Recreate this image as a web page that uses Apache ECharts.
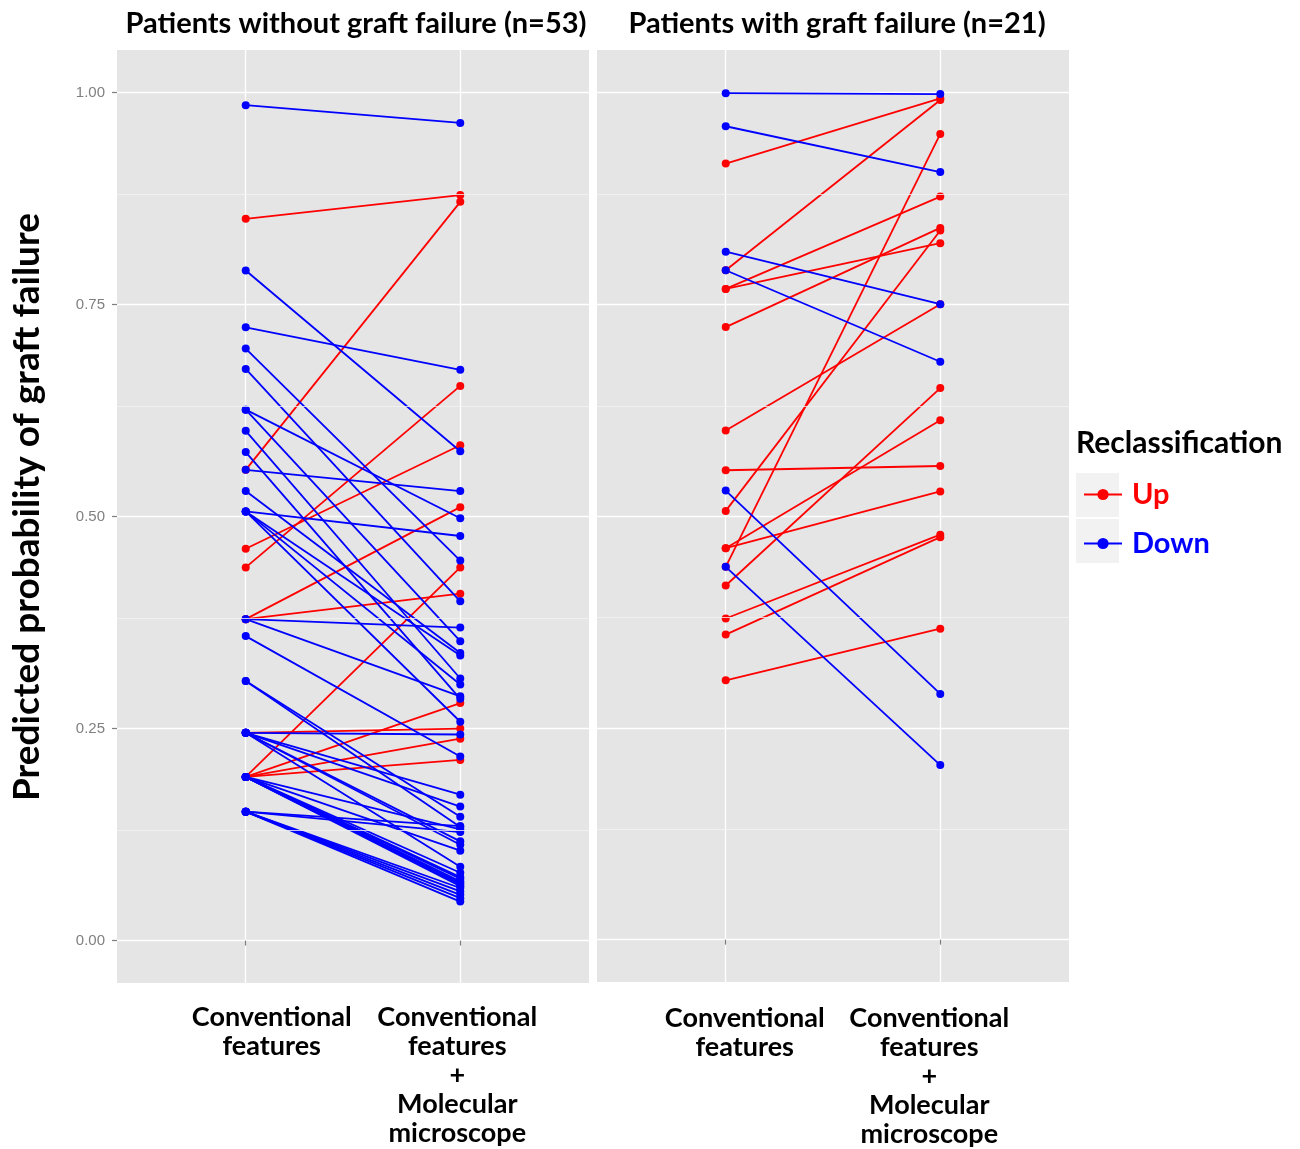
<!DOCTYPE html>
<html><head><meta charset="utf-8">
<script src="https://cdn.jsdelivr.net/npm/echarts@6/dist/echarts.min.js"></script>
<style>html,body{margin:0;padding:0;background:#fff}#c{width:1300px;height:1149px}</style>
</head><body><div id="c"></div>
<script>
// ---- data ----
const categories = ['Conventional\nfeatures', 'Conventional\nfeatures\n+\nMolecular\nmicroscope'];
const yTicks = [0, 0.25, 0.5, 0.75, 1];
const yTickLabels = ['0.00', '0.25', '0.50', '0.75', '1.00'];
const yMinor = [0.125, 0.375, 0.625, 0.875];
const panelTitles = ['Patients without graft failure (n=53)', 'Patients with graft failure (n=21)'];
const yTitle = 'Predicted probability of graft failure';
const legendTitle = 'Reclassification';
const groups = ['Up', 'Down'];

// Patients without graft failure: conventional -> conventional + molecular
const noFailConv = [0.851, 0.555, 0.462, 0.440, 0.379, 0.379, 0.245, 0.193, 0.193, 0.193, 0.193,
  0.985, 0.790, 0.723, 0.698, 0.674, 0.626, 0.626, 0.601, 0.576, 0.555, 0.530, 0.506, 0.506, 0.506, 0.506,
  0.379, 0.379, 0.359, 0.306, 0.306, 0.245, 0.245, 0.245, 0.245, 0.245, 0.245,
  0.193, 0.193, 0.193, 0.193, 0.193, 0.193, 0.193, 0.193, 0.193,
  0.152, 0.152, 0.152, 0.152, 0.152, 0.152, 0.152];
const noFailMol = [0.879, 0.871, 0.584, 0.654, 0.511, 0.409, 0.250, 0.440, 0.280, 0.238, 0.213,
  0.964, 0.577, 0.673, 0.448, 0.400, 0.498, 0.353, 0.309, 0.285, 0.530, 0.339, 0.477, 0.336, 0.302, 0.258,
  0.369, 0.288, 0.217, 0.146, 0.134, 0.243, 0.172, 0.158, 0.117, 0.113, 0.087,
  0.131, 0.106, 0.080, 0.075, 0.073, 0.070, 0.068, 0.066, 0.064,
  0.135, 0.128, 0.062, 0.058, 0.054, 0.050, 0.046];
const noFailDir = ['Up', 'Up', 'Up', 'Up', 'Up', 'Up', 'Up', 'Up', 'Up', 'Up', 'Up',
  'Down', 'Down', 'Down', 'Down', 'Down', 'Down', 'Down', 'Down', 'Down', 'Down', 'Down', 'Down', 'Down', 'Down', 'Down',
  'Down', 'Down', 'Down', 'Down', 'Down', 'Down', 'Down', 'Down', 'Down', 'Down', 'Down',
  'Down', 'Down', 'Down', 'Down', 'Down', 'Down', 'Down', 'Down', 'Down',
  'Down', 'Down', 'Down', 'Down', 'Down', 'Down', 'Down'];

// Patients with graft failure
const failConv = [0.916, 0.790, 0.768, 0.768, 0.723, 0.601, 0.554, 0.506, 0.462, 0.462, 0.440, 0.418, 0.379, 0.360, 0.306,
  0.999, 0.960, 0.812, 0.790, 0.530, 0.440];
const failMol = [0.993, 0.991, 0.877, 0.822, 0.840, 0.750, 0.559, 0.837, 0.613, 0.529, 0.951, 0.651, 0.478, 0.475, 0.367,
  0.998, 0.906, 0.750, 0.682, 0.290, 0.206];
const failDir = ['Up', 'Up', 'Up', 'Up', 'Up', 'Up', 'Up', 'Up', 'Up', 'Up', 'Up', 'Up', 'Up', 'Up', 'Up',
  'Down', 'Down', 'Down', 'Down', 'Down', 'Down'];

// ---- styles ----
const colorMap = { Up: '#FF0000', Down: '#0000FF' };
const FONT = 'Lato, "Open Sans", sans-serif';
// horizontal nudges (px) of the two category labels in each panel
const labelShift = [[26, -3], [19, -11]];

function pairSeries(conv, mol, dir, gi) {
  return conv.map((c, i) => ({
    type: 'line', name: dir[i], xAxisIndex: gi, yAxisIndex: gi,
    data: [[1, c], [2, mol[i]]],
    symbol: 'circle', symbolSize: 8, showSymbol: true,
    lineStyle: { width: 1.8, color: colorMap[dir[i]] },
    itemStyle: { color: colorMap[dir[i]] },
    emphasis: { disabled: true }, silent: true, animation: false, z: 3
  }));
}
function minorSeries(gi) {
  return {
    type: 'line', name: 'minor' + gi, xAxisIndex: gi, yAxisIndex: gi, data: [],
    silent: true, animation: false, z: 1,
    markLine: {
      silent: true, symbol: ['none', 'none'], label: { show: false }, animation: false,
      lineStyle: { type: 'solid', color: '#F2F2F2', width: 0.8 },
      emphasis: { disabled: true },
      data: yMinor.map(v => ({ yAxis: v }))
    }
  };
}
function richFor(shift) {
  const pad = shift >= 0 ? [0, 0, 0, 2 * shift] : [0, -2 * shift, 0, 0];
  return { fontFamily: FONT, fontWeight: 'bold', fontSize: 27, lineHeight: 29, color: '#000', padding: pad };
}
function xAxis(gi) {
  return {
    type: 'value', gridIndex: gi, min: 0.4, max: 2.6,
    axisLine: { show: false },
    axisTick: { show: true, customValues: [1, 2], length: 5, lineStyle: { color: '#7F7F7F', width: 1.2 } },
    axisLabel: {
      customValues: [1, 2],
      formatter: v => {
        const k = Math.round(v) - 1;
        const key = 'c' + k;
        return categories[k].split('\n').map(s => '{' + key + '|' + s + '}').join('\n');
      },
      margin: gi === 0 ? 20 : 22, color: '#000', fontFamily: FONT, fontWeight: 'bold', fontSize: 27, lineHeight: 29,
      rich: { c0: richFor(labelShift[gi][0]), c1: richFor(labelShift[gi][1]) }
    },
    splitLine: { show: true, lineStyle: { color: '#FFFFFF', width: 1.3 } }
  };
}
function yAxis(gi) {
  return {
    type: 'value', gridIndex: gi, min: -0.05, max: 1.05,
    axisLine: { show: false },
    axisTick: { show: gi === 0, customValues: yTicks, length: 5, lineStyle: { color: '#7F7F7F', width: 1.2 } },
    axisLabel: {
      show: gi === 0, customValues: yTicks, margin: 12,
      formatter: v => yTickLabels[yTicks.findIndex(t => Math.abs(t - v) < 1e-6)],
      color: '#7F7F7F', fontFamily: '"Liberation Sans", Arial, sans-serif', fontSize: 15
    },
    splitLine: { show: true, lineStyle: { color: '#FFFFFF', width: 1.3 } }
  };
}

const chart = echarts.init(document.getElementById('c'), null, { renderer: 'canvas' });
chart.setOption({
  animation: false,
  backgroundColor: '#FFFFFF',
  grid: [
    { left: 117, top: 50, width: 472, height: 933, show: true, backgroundColor: '#E5E5E5', borderWidth: 0 },
    { left: 597, top: 50, width: 472, height: 933, show: true, backgroundColor: '#E5E5E5', borderWidth: 0 }
  ],
  xAxis: [xAxis(0), xAxis(1)],
  yAxis: [yAxis(0), yAxis(1)],
  legend: {
    orient: 'vertical', left: 1078, top: 475, itemWidth: 38, itemHeight: 14, itemGap: 20,
    selectedMode: false,
    textStyle: { fontSize: 29, fontWeight: 'bold', fontFamily: FONT, padding: [0, 0, 0, 5] },
    data: [
      { name: groups[0], textStyle: { color: colorMap.Up } },
      { name: groups[1], textStyle: { color: colorMap.Down } }
    ]
  },
  graphic: [
    { type: 'rect', shape: { x: 1076, y: 473, width: 43, height: 44 }, style: { fill: '#F2F2F2' }, z: -1, silent: true },
    { type: 'rect', shape: { x: 1076, y: 519, width: 43, height: 44 }, style: { fill: '#F2F2F2' }, z: -1, silent: true },
    { type: 'text', x: 356, y: 24, style: { text: panelTitles[0], textAlign: 'center', textVerticalAlign: 'middle', font: 'bold 29px ' + FONT, fill: '#000' } },
    { type: 'text', x: 837, y: 24, style: { text: panelTitles[1], textAlign: 'center', textVerticalAlign: 'middle', font: 'bold 29px ' + FONT, fill: '#000' } },
    { type: 'text', x: 1076, y: 443, style: { text: legendTitle, textAlign: 'left', textVerticalAlign: 'middle', font: 'bold 30px ' + FONT, fill: '#000' } },
    { type: 'text', x: 27, y: 507, rotation: Math.PI / 2, style: { text: yTitle, textAlign: 'center', textVerticalAlign: 'middle', font: 'bold 37px ' + FONT, fill: '#000' } }
  ],
  series: [minorSeries(0), minorSeries(1)]
    .concat(pairSeries(noFailConv, noFailMol, noFailDir, 0))
    .concat(pairSeries(failConv, failMol, failDir, 1))
});
</script>
</body></html>
